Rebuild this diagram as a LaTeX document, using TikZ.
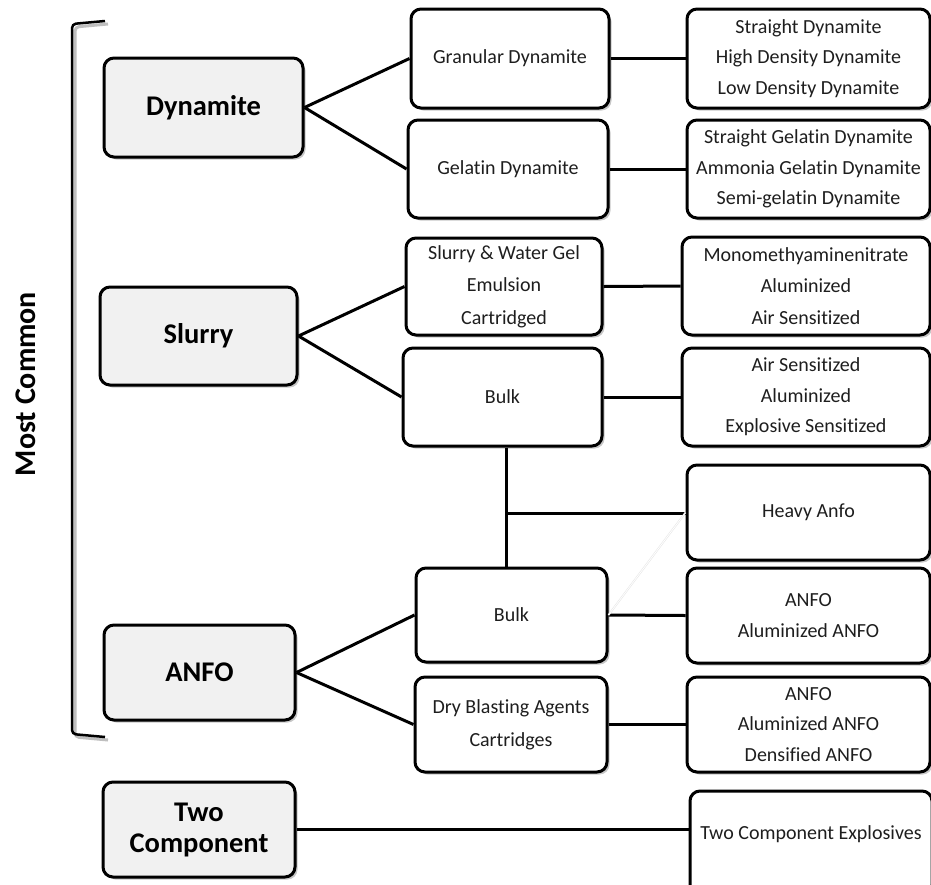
\documentclass[tikz,border=0pt]{standalone}
\usepackage{fontspec}
\setmainfont{Carlito}[Ligatures=NoCommon]
\usetikzlibrary{shadows}
\definecolor{boxgray}{HTML}{F1F1F1}
\definecolor{txt}{HTML}{1E1E1E}
\tikzset{
  basebox/.style={draw=black, line width=3pt, rounded corners=10pt, inner sep=0pt, align=center,
    drop shadow={shadow xshift=2.5pt, shadow yshift=-2.5pt, fill=black, opacity=0.22}},
  mainbox/.style={basebox, fill=boxgray, font=\bfseries\fontsize{28.5}{32}\selectfont, text=black},
  subbox/.style={basebox, fill=white, font=\fontsize{20}{30.5}\selectfont, text=txt},
  conn/.style={draw=black, line width=3pt},
  faint/.style={draw=black!10, line width=0.5pt, double=white, double distance=0.8pt}
}
\begin{document}
\begin{tikzpicture}[x=1pt, y=-1pt]
\path[use as bounding box] (0,0) rectangle (931,884);
\clip (0,0) rectangle (931,884);
\fill[white] (0,0) rectangle (931,884);

% bracket and label
\draw[black!25, line width=3pt, rounded corners=4pt] (108,24) -- (75,27) -- (75,737) -- (108,740);
\draw[black, line width=2.5pt, rounded corners=4pt] (105,21) -- (72,24) -- (72,734) -- (105,737);
\node[rotate=90, font=\bfseries\fontsize{30}{36}\selectfont, text=black] (mc) at (26,384) {Most Common};

% left column
\node[mainbox, minimum width=199pt, minimum height=99pt] (dyn) at (203.5,107.5) {Dynamite};
\node[mainbox, minimum width=197pt, minimum height=98pt] (slu) at (198.5,336) {Slurry};
\node[mainbox, minimum width=191pt, minimum height=95pt] (anfo) at (199.5,672.5) {ANFO};
\node[mainbox, minimum width=192pt, minimum height=95pt] (two) at (199,829.5) {Two\\[-1pt]Component};

% middle column
\node[subbox, minimum width=198pt, minimum height=99pt] (gran) at (510,58.5) {Granular Dynamite};
\node[subbox, minimum width=200pt, minimum height=98pt] (gel) at (508,169) {Gelatin Dynamite};
\node[subbox, minimum width=196pt, minimum height=97pt, font=\fontsize{20}{32.5}\selectfont] (sw) at (504,286.5) {Slurry \& Water Gel\\Emulsion\\Cartridged};
\node[subbox, minimum width=199pt, minimum height=98pt] (bulka) at (502.5,397) {Bulk};
\node[subbox, minimum width=191pt, minimum height=94pt] (bulkb) at (511.5,615) {Bulk};
\node[subbox, minimum width=192pt, minimum height=95pt, font=\fontsize{20}{33}\selectfont] (dry) at (511,724.5) {Dry Blasting Agents\\Cartridges};

% right column
\node[subbox, minimum width=243pt, minimum height=99pt] (r1) at (808.5,58.5) {Straight Dynamite\\High Density Dynamite\\Low Density Dynamite};
\node[subbox, minimum width=243pt, minimum height=98pt] (r2) at (808.5,169) {Straight Gelatin Dynamite\\Ammonia Gelatin Dynamite\\Semi-gelatin Dynamite};
\node[subbox, minimum width=248pt, minimum height=98pt, font=\fontsize{20}{31.5}\selectfont] (r3) at (806,286) {Monomethyaminenitrate\\Aluminized\\Air Sensitized};
\node[subbox, minimum width=248pt, minimum height=98pt] (r4) at (806,397) {Air Sensitized\\Aluminized\\Explosive Sensitized};
\node[subbox, minimum width=243pt, minimum height=95pt] (r5) at (808.5,512.5) {Heavy Anfo};
\node[subbox, minimum width=243pt, minimum height=95pt] (r6) at (808.5,615.5) {ANFO\\Aluminized ANFO};
\node[subbox, minimum width=243pt, minimum height=95pt] (r7) at (808.5,724.5) {ANFO\\Aluminized ANFO\\Densified ANFO};
\node[subbox, minimum width=242pt, minimum height=104pt, text depth=21pt] (r8) at (811,843) {Two Component Explosives};

% connectors
\draw[conn] (dyn.east) -- (gran.west);
\draw[conn] (dyn.east) -- (gel.west);
\draw[conn] (slu.east) -- (sw.west);
\draw[conn] (slu.east) -- (bulka.west);
\draw[conn] (anfo.east) -- (bulkb.west);
\draw[conn] (anfo.east) -- (dry.west);

\draw[conn] (gran.east) -- (r1.west);
\draw[conn] (gel.east) -- (r2.west);
\draw[conn] (sw.east) -- (r3.west);
\draw[conn] (bulka.east) -- (r4.west);
\draw[conn] (bulkb.east) -- (r6.west);
\draw[conn] (dry.east) -- (r7.west);
\draw[conn] (two.east) -- (two.east -| r8.west);

\coordinate (j) at (506,513);
\draw[conn] (j |- bulka.south) -- (j |- bulkb.north);
\draw[conn] (j) -- (j -| r5.west);
\draw[faint] (bulkb.east) -- (r5.west);
\end{tikzpicture}
\end{document}
